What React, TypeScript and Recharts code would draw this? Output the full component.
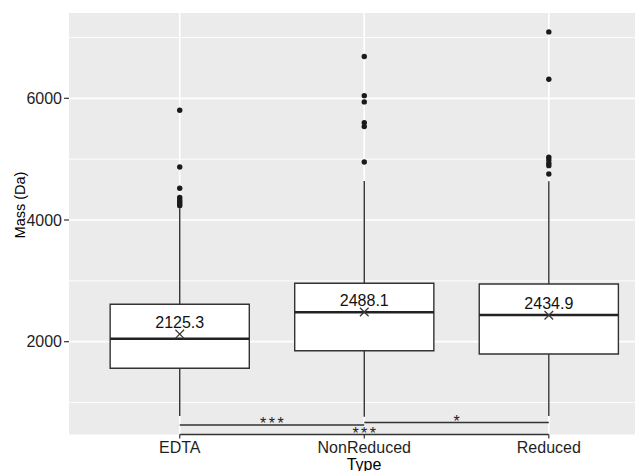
import React from 'react';
import {
  ScatterChart,
  Scatter,
  XAxis,
  YAxis,
  CartesianGrid,
  ReferenceArea,
  ReferenceLine,
  ReferenceDot,
} from 'recharts';

const categories = ['EDTA', 'NonReduced', 'Reduced'];
const positions = [1, 2, 3];
const q1 = [1563, 1852, 1798];
const medians = [2049, 2483, 2439];
const q3 = [2615, 2960, 2949];
const whiskerLow = [779, 767, 779];
const whiskerHigh = [4190, 4642, 4635];
const means = [2125.3, 2488.1, 2434.9];
const outliersEDTA = [5804, 4872, 4521, 4370, 4330, 4295, 4265, 4235];
const outliersNonReduced = [6686, 6044, 5941, 5600, 5535, 4954];
const outliersReduced = [7091, 6314, 5032, 4987, 4933, 4893, 4757];
const outliers = [outliersEDTA, outliersNonReduced, outliersReduced];
const bracketFrom = [1, 2, 1];
const bracketTo = [2, 3, 3];
const bracketY = [631, 672, 475];
const bracketLabels = ['***', '*', '***'];
const yTicks = [2000, 4000, 6000];
const yMinor = [1000, 3000, 5000, 7000];

const FONT = '"Liberation Sans", Arial, Helvetica, sans-serif';
const HALF = 0.377;
const DARK = '#333333';

const outlierData = positions.flatMap((p, i) => outliers[i].map((v) => ({ x: p, y: v })));
const meanData = positions.map((p, i) => ({ x: p, y: means[i], label: means[i].toFixed(1) }));

const OutlierDot = (props: any) => (
  <circle cx={props.cx} cy={props.cy} r={2.7} fill="#1a1a1a" />
);

const MeanMark = (props: any) => {
  const { cx, cy, payload } = props;
  const s = 4.3;
  return (
    <g>
      <line x1={cx - s} y1={cy - s} x2={cx + s} y2={cy + s} stroke="#3a3a3a" strokeWidth={1.3} />
      <line x1={cx - s} y1={cy + s} x2={cx + s} y2={cy - s} stroke="#3a3a3a" strokeWidth={1.3} />
      <text x={cx} y={cy - 6.5} textAnchor="middle" fontSize={16} fontFamily={FONT} fill="#111">
        {payload.label}
      </text>
    </g>
  );
};

export default function App() {
  return (
    <div style={{ position: 'absolute', left: 0, top: 0, width: 635, height: 471, overflow: 'hidden', background: '#fff' }}>
      <ScatterChart width={635} height={471} margin={{ top: 13, right: 0, bottom: 0, left: 0 }}>
        <CartesianGrid
          fill="#EBEBEB"
          fillOpacity={1}
          stroke="#ffffff"
          strokeWidth={0.9}
          horizontalValues={yMinor}
          vertical={false}
        />
        <CartesianGrid
          stroke="#ffffff"
          strokeWidth={1.7}
          horizontalValues={yTicks}
          verticalValues={positions}
        />
        <XAxis
          type="number"
          dataKey="x"
          domain={[0.4, 3.467]}
          allowDataOverflow
          ticks={positions}
          interval={0}
          tickFormatter={(v: number) => categories[v - 1]}
          tickSize={4}
          tickMargin={3}
          height={36.5}
          axisLine={false}
          tickLine={{ stroke: DARK, strokeWidth: 1.2 }}
          tick={{ fill: '#1f1f1f', fontSize: 16, fontFamily: FONT }}
          label={{
            content: () => (
              <text x={364} y={470} textAnchor="middle" fontSize={16} fontFamily={FONT} fill="#000">
                Type
              </text>
            ),
          }}
        />
        <YAxis
          type="number"
          dataKey="y"
          domain={[475, 7402]}
          allowDataOverflow
          ticks={yTicks}
          interval={0}
          width={69}
          tickSize={5}
          tickMargin={2}
          axisLine={false}
          tickLine={{ stroke: DARK, strokeWidth: 1.2 }}
          tick={{ fill: '#1f1f1f', fontSize: 16, fontFamily: FONT }}
          label={{
            content: () => (
              <text
                x={25}
                y={205}
                transform="rotate(-90 25 205)"
                textAnchor="middle"
                fontSize={14.5}
                fontFamily={FONT}
                fill="#000"
              >
                Mass (Da)
              </text>
            ),
          }}
        />
        {positions.map((p, i) => (
          <ReferenceLine
            key={`wh-${i}`}
            segment={[{ x: p, y: q3[i] }, { x: p, y: whiskerHigh[i] }]}
            stroke={DARK}
            strokeWidth={1.4}
            ifOverflow="visible"
          />
        ))}
        {positions.map((p, i) => (
          <ReferenceLine
            key={`wl-${i}`}
            segment={[{ x: p, y: q1[i] }, { x: p, y: whiskerLow[i] }]}
            stroke={DARK}
            strokeWidth={1.4}
            ifOverflow="visible"
          />
        ))}
        {positions.map((p, i) => (
          <ReferenceArea
            key={`box-${i}`}
            x1={p - HALF}
            x2={p + HALF}
            y1={q1[i]}
            y2={q3[i]}
            fill="#ffffff"
            fillOpacity={1}
            stroke={DARK}
            strokeWidth={1.4}
            ifOverflow="visible"
          />
        ))}
        {positions.map((p, i) => (
          <ReferenceLine
            key={`med-${i}`}
            segment={[{ x: p - HALF, y: medians[i] }, { x: p + HALF, y: medians[i] }]}
            stroke="#222"
            strokeWidth={2.6}
            ifOverflow="visible"
          />
        ))}
        {bracketY.map((y, i) => (
          <ReferenceLine
            key={`br-${i}`}
            segment={[{ x: bracketFrom[i], y }, { x: bracketTo[i], y }]}
            stroke={DARK}
            strokeWidth={1.4}
            ifOverflow="visible"
          />
        ))}
        {bracketY.map((y, i) => (
          <ReferenceDot
            key={`bl-${i}`}
            x={(bracketFrom[i] + bracketTo[i]) / 2}
            y={y}
            ifOverflow="visible"
            shape={(props: any) => (
              <text
                x={props.cx + 1.2}
                y={props.cy + 4}
                textAnchor="middle"
                fontSize={16}
                letterSpacing={2.5}
                fontFamily={FONT}
                fill="#222"
              >
                {bracketLabels[i]}
              </text>
            )}
          />
        ))}
        <Scatter data={outlierData} shape={OutlierDot} isAnimationActive={false} />
        <Scatter data={meanData} shape={MeanMark} isAnimationActive={false} />
      </ScatterChart>
    </div>
  );
}
